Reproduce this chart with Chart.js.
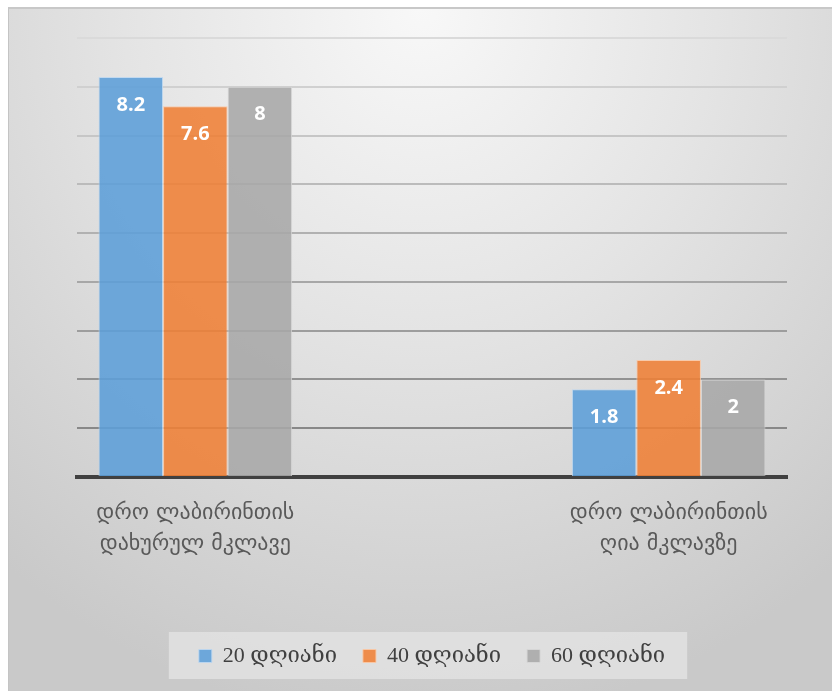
<!DOCTYPE html>
<html>
<head>
<meta charset="utf-8">
<script src="https://cdn.jsdelivr.net/npm/chart.js@4/dist/chart.umd.min.js"></script>
<style>
  html, body { margin: 0; padding: 0; background: #ffffff; }
  #wrap { position: relative; width: 832px; height: 691px; overflow: hidden; }
  #frame {
    position: absolute; left: 8px; top: 7px; right: 0; bottom: 0;
    border-left: 1px solid #c4c4c4; border-top: 2px solid #c8c8c8;
    background: radial-gradient(ellipse 80% 105% at 50% 0%, #f8f8f8 0%, #e4e4e4 45%, #c9c9c9 100%);
  }
  #chart { position: absolute; left: 0; top: 0; }
</style>
</head>
<body>
<div id="wrap">
  <div id="frame"></div>
  <canvas id="chart" width="832" height="691"></canvas>
</div>
<script>
// Two maze conditions; the middle slot is an empty spacer category.
const categories = [
  ['დრო ლაბირინთის', 'დახურულ მკლავე'],
  '',
  ['დრო ლაბირინთის', 'ღია მკლავზე']
];
const seriesNames = ['20 დღიანი', '40 დღიანი', '60 დღიანი'];
const days20 = [8.2, null, 1.8];
const days40 = [7.6, null, 2.4];
const days60 = [8, null, 2];
const yTicks = [0, 1, 2, 3, 4, 5, 6, 7, 8, 9];

const fills = ['rgba(92,158,216,0.88)', 'rgba(239,128,54,0.88)', 'rgba(167,167,167,0.88)'];
const edges = ['rgba(190,215,240,0.9)', 'rgba(250,200,165,0.9)', 'rgba(215,215,215,0.9)'];

// Value labels printed inside the top of each bar
const barValueLabels = {
  id: 'barValueLabels',
  afterDatasetsDraw(chart) {
    const ctx = chart.ctx;
    ctx.save();
    ctx.fillStyle = '#ffffff';
    ctx.font = 'bold 20px "Open Sans", "Liberation Sans", sans-serif';
    ctx.textAlign = 'center';
    ctx.textBaseline = 'middle';
    chart.data.datasets.forEach((ds, i) => {
      chart.getDatasetMeta(i).data.forEach((bar, j) => {
        const v = ds.data[j];
        if (v === null || v === undefined) return;
        ctx.fillText(String(v), bar.x, bar.y + 28);
      });
    });
    ctx.restore();
  }
};

// Light panel behind the legend entries
const legendPanel = {
  id: 'legendPanel',
  beforeDraw(chart) {
    const lg = chart.legend;
    if (!lg || !lg.legendHitBoxes || !lg.legendHitBoxes.length) return;
    const boxes = lg.legendHitBoxes;
    const left = Math.min(...boxes.map(b => b.left)) - 30;
    const right = Math.max(...boxes.map(b => b.left + b.width)) + 22;
    const top = boxes[0].top - 13;
    const h = boxes[0].height + 25;
    const ctx = chart.ctx;
    ctx.save();
    ctx.fillStyle = 'rgba(228,228,228,0.75)';
    ctx.fillRect(left, top, right - left, h);
    ctx.restore();
  }
};

// Grid lines fade from light at the top to darker near the baseline
function gridShade(ctx) {
  const v = ctx.tick ? ctx.tick.value : 0;
  if (v === 0) return 'rgba(0,0,0,0)';
  const t = (v - 1) / 8;
  const c = Math.round(136 + t * (218 - 136));
  return `rgb(${c},${c},${c})`;
}

new Chart(document.getElementById('chart'), {
  type: 'bar',
  data: {
    labels: categories,
    datasets: [
      { label: seriesNames[0], data: days20, backgroundColor: fills[0], borderColor: edges[0], borderWidth: 1 },
      { label: seriesNames[1], data: days40, backgroundColor: fills[1], borderColor: edges[1], borderWidth: 1 },
      { label: seriesNames[2], data: days60, backgroundColor: fills[2], borderColor: edges[2], borderWidth: 1 }
    ]
  },
  options: {
    responsive: false,
    animation: false,
    devicePixelRatio: 1,
    layout: { padding: { left: 77, right: 45, top: 38, bottom: 14 } },
    datasets: { bar: { categoryPercentage: 0.818, barPercentage: 1, grouped: true } },
    scales: {
      x: {
        grid: { display: false },
        border: { display: true, color: '#404040', width: 4 },
        ticks: {
          color: '#595959',
          padding: 13,
          maxRotation: 0,
          autoSkip: false,
          font: { family: '"DejaVu Sans", sans-serif', size: 22, lineHeight: 1.41 }
        },
        afterFit(scale) { scale.height = 142; }
      },
      y: {
        min: 0,
        max: 9,
        afterBuildTicks(scale) { scale.ticks = yTicks.map(v => ({ value: v })); },
        ticks: { display: false },
        border: { display: false },
        grid: { color: gridShade, lineWidth: 2, drawTicks: false }
      }
    },
    plugins: {
      legend: {
        position: 'bottom',
        labels: {
          boxWidth: 13,
          boxHeight: 13,
          padding: 26,
          color: '#404040',
          font: { family: '"Liberation Serif", "DejaVu Serif", "DejaVu Sans", serif', size: 22 }
        }
      },
      tooltip: { enabled: false }
    }
  },
  plugins: [legendPanel, barValueLabels]
});
</script>
</body>
</html>
